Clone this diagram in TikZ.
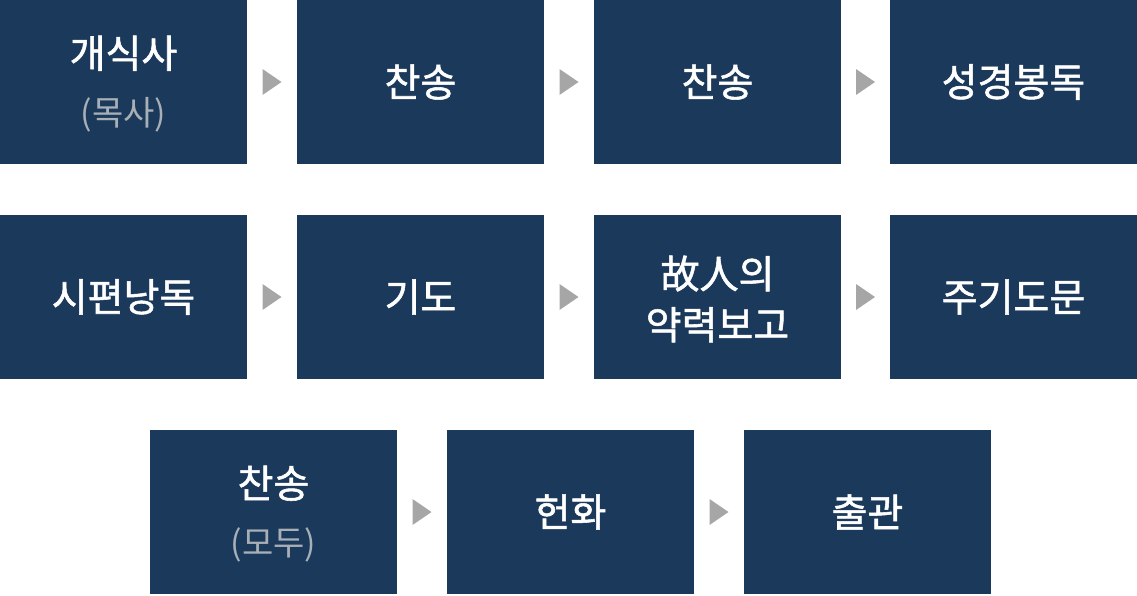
\documentclass[tikz,border=0pt]{standalone}
\usepackage{fontspec}
\newfontfamily\kr{Noto Sans CJK KR}
\newfontfamily\krm[FakeBold=1.4]{Noto Sans CJK KR}
\usetikzlibrary{calc}
\definecolor{navy}{HTML}{1B395B}
\definecolor{subgray}{HTML}{A9AFB7}
\definecolor{trigray}{HTML}{A6A6A6}
\tikzset{
  box/.style={fill=navy, minimum width=247pt, minimum height=164pt, inner sep=0pt},
  label text/.style={text=white, inner sep=0pt, align=center, font=\krm\fontsize{39}{51}\selectfont},
  tri/.style={fill=trigray},
}
\newcommand{\subtxt}[1]{{\kr\fontsize{34}{40}\selectfont\color{subgray}#1}}
\newcommand{\arrowtri}[2]{\fill[tri] ($(#1.east)!0.5!(#2.west)+(-9.5,-13)$) -- ($(#1.east)!0.5!(#2.west)+(9.5,0)$) -- ($(#1.east)!0.5!(#2.west)+(-9.5,13)$) -- cycle;}
\begin{document}
\begin{tikzpicture}[x=1pt,y=-1pt]
\useasboundingbox (0,0) rectangle (1137,595);
% row 1
\node[box] (b1) at (123.5,82) {};
\node[box] (b2) at (420.5,82) {};
\node[box] (b3) at (717.5,82) {};
\node[box] (b4) at (1013.5,82) {};
% row 2
\node[box] (b5) at (123.5,297) {};
\node[box] (b6) at (420.5,297) {};
\node[box] (b7) at (717.5,297) {};
\node[box] (b8) at (1013.5,297) {};
% row 3
\node[box] (b9) at (273.5,512) {};
\node[box] (b10) at (570.5,512) {};
\node[box] (b11) at (867.5,512) {};
% texts
\node[label text] (t1) at ($(b1)+(0,2)$) {개식사\\[7pt]\subtxt{(목사)}};
\node[label text] (t2) at (b2) {찬송};
\node[label text] (t3) at (b3) {찬송};
\node[label text] (t4) at (b4) {성경봉독};
\node[label text] (t5) at (b5) {시편낭독};
\node[label text] (t6) at (b6) {기도};
\node[label text] (t7) at ($(b7)+(0,2)$) {故人의\\약력보고};
\node[label text] (t8) at (b8) {주기도문};
\node[label text] (t9) at ($(b9)+(0,2)$) {찬송\\[7pt]\subtxt{(모두)}};
\node[label text] (t10) at (b10) {헌화};
\node[label text] (t11) at (b11) {출관};
% arrows
\arrowtri{b1}{b2}
\arrowtri{b2}{b3}
\arrowtri{b3}{b4}
\arrowtri{b5}{b6}
\arrowtri{b6}{b7}
\arrowtri{b7}{b8}
\arrowtri{b9}{b10}
\arrowtri{b10}{b11}
\end{tikzpicture}
\end{document}
